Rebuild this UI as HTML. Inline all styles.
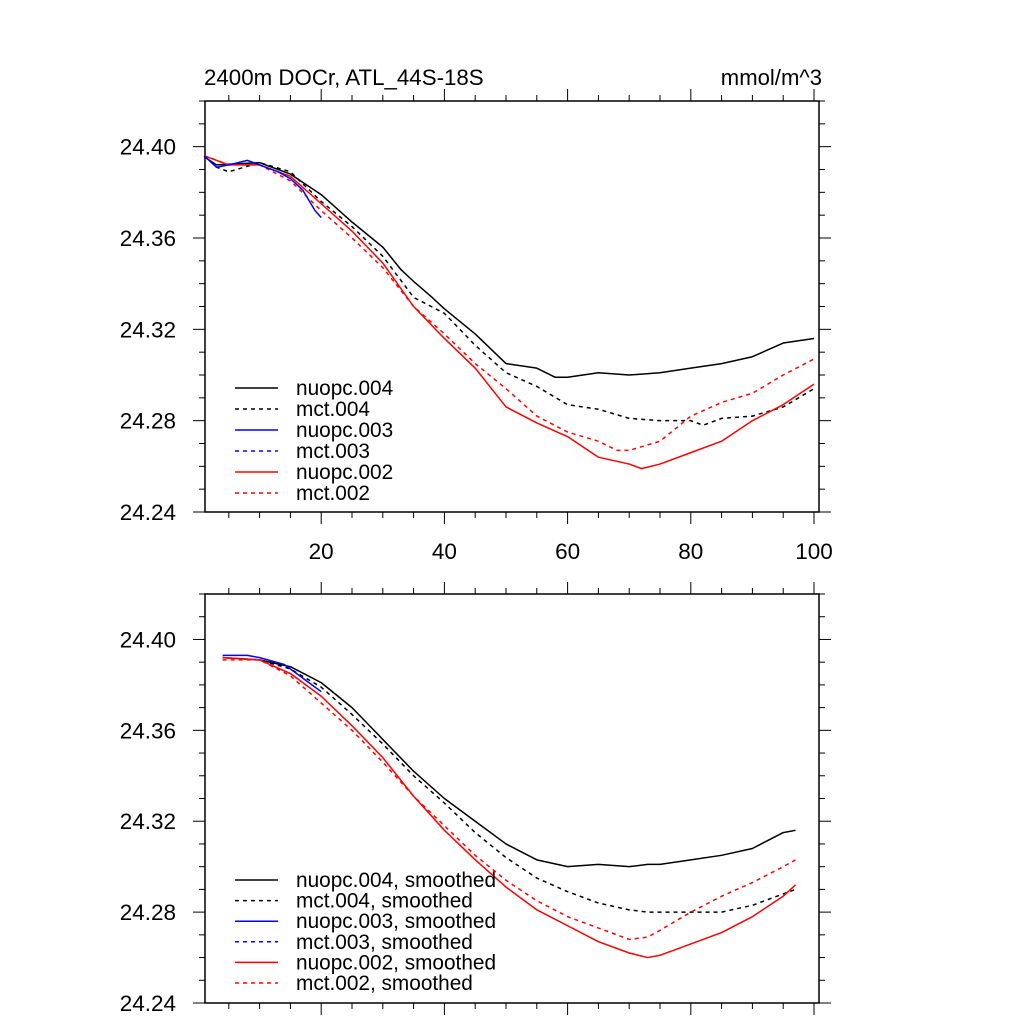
<!DOCTYPE html>
<html><head><meta charset="utf-8"><style>
body{margin:0;background:#fff}
svg{display:block;font-family:"Liberation Sans",sans-serif}
</style></head><body>
<svg id="c" width="1024" height="1024"></svg>
<script>
// ---- data (top panel) ----
const topNuopc004X=[1,3,10,15,20,25,30,33,35,38,40,45,50,55,58,60,65,70,75,80,85,90,95,100];
const topNuopc004Y=[24.3956,24.392,24.393,24.388,24.379,24.367,24.356,24.346,24.341,24.334,24.329,24.318,24.305,24.303,24.299,24.299,24.301,24.300,24.301,24.303,24.305,24.308,24.314,24.316];
const topMct004X=[1,3,5,10,15,20,25,30,35,40,45,50,55,60,65,70,75,80,82,85,90,95,100];
const topMct004Y=[24.396,24.391,24.389,24.393,24.389,24.376,24.365,24.352,24.334,24.327,24.313,24.301,24.295,24.287,24.285,24.281,24.280,24.280,24.278,24.281,24.282,24.286,24.294];
const topNuopc002X=[1,5,10,15,20,25,30,35,40,45,50,55,60,65,70,72,75,80,85,90,95,100];
const topNuopc002Y=[24.396,24.392,24.392,24.387,24.375,24.363,24.349,24.330,24.316,24.303,24.286,24.279,24.273,24.264,24.261,24.259,24.261,24.266,24.271,24.280,24.287,24.296];
const topMct002X=[1,5,10,15,20,25,30,35,40,45,50,55,60,65,68,70,75,80,85,90,95,100];
const topMct002Y=[24.396,24.392,24.392,24.385,24.372,24.360,24.347,24.330,24.318,24.305,24.294,24.282,24.275,24.271,24.267,24.267,24.271,24.282,24.288,24.292,24.300,24.307];
const topNuopc003X=[1,3,5,8,10,13,15,17,19,20];
const topNuopc003Y=[24.396,24.391,24.392,24.394,24.392,24.389,24.386,24.381,24.372,24.369];
// ---- data (bottom panel, smoothed) ----
const botX=[4,10,15,20,25,30,35,40,45,50,55,60,65,70,73,75,80,85,90,95,97];
const botNuopc004=[24.392,24.391,24.388,24.381,24.370,24.356,24.342,24.330,24.320,24.310,24.303,24.300,24.301,24.300,24.301,24.301,24.303,24.305,24.308,24.315,24.316];
const botMct004=[24.392,24.391,24.387,24.379,24.367,24.354,24.340,24.328,24.315,24.304,24.295,24.289,24.284,24.281,24.280,24.280,24.280,24.280,24.283,24.288,24.290];
const botNuopc002=[24.392,24.391,24.385,24.375,24.362,24.348,24.331,24.316,24.303,24.291,24.281,24.274,24.267,24.262,24.260,24.261,24.266,24.271,24.278,24.287,24.292];
const botMct002=[24.391,24.391,24.384,24.372,24.360,24.346,24.331,24.318,24.305,24.294,24.285,24.278,24.273,24.268,24.269,24.272,24.280,24.287,24.293,24.300,24.303];
const botBlueX=[4,8,10,14,18,20];
const botNuopc003=[24.393,24.393,24.392,24.389,24.381,24.377];
const yTicks=["24.24","24.28","24.32","24.36","24.40"];
const xTicks=["20","40","60","80","100"];

const NS="http://www.w3.org/2000/svg";
const svg=document.getElementById('c');
function mk(t,a,p){const e=document.createElementNS(NS,t);for(const k in a)e.setAttribute(k,a[k]);(p||svg).appendChild(e);return e;}
const L=205,R=819,xs=v=>198+(v)*6.16;

function panel(top,bot,name){
  const g=mk('g',{});
  
  
  const ys=v=>bot-(v-24.24)/0.18*(bot-top);
  const fr=mk('rect',{x:L,y:top,width:R-L,height:bot-top,fill:'none',stroke:'#000','stroke-width':1.5},g);
  
  
  for(let i=0;i<=18;i++){const v=24.24+i*0.01,y=ys(v),len=i%4==0?12:6;
    mk('line',{x1:L,x2:L-len,y1:y,y2:y,stroke:'#000'},g);
    mk('line',{x1:R,x2:R+len,y1:y,y2:y,stroke:'#000'},g);}
  for(let v=5;v<=100;v+=5){const x=xs(v),len=v%20==0?12:6;
    mk('line',{x1:x,x2:x,y1:bot,y2:bot+len,stroke:'#000'},g);
    mk('line',{x1:x,x2:x,y1:top,y2:top-len,stroke:'#000'},g);}
  yTicks.forEach(t=>{const e=mk('text',{x:176,y:ys(+t)+8,'text-anchor':'end','font-size':22.5},g);e.textContent=t;
    
    });
  return {g,ys};
}
function line(g,X,Y,ys,col,dash,name){
  const p=mk('polyline',{points:X.map((x,i)=>xs(x)+','+ys(Y[i])).join(' '),fill:'none',stroke:col,'stroke-width':1.5,'stroke-dasharray':dash?'4,4':'none','stroke-linejoin':'round'},g);
  
  
}
function legend(g,y0,dy,labels){
  const cols=['#000','#000','#0000ff','#0000ff','#ff0000','#ff0000'];
  labels.forEach((t,i)=>{const y=y0+i*dy;
    const l=mk('line',{x1:235,x2:278,y1:y,y2:y,stroke:cols[i],'stroke-width':1.5,'stroke-dasharray':i%2?'4,4':'none'},g);
    
    
    const e=mk('text',{x:296,y:y+7,'font-size':20.8},g);e.textContent=t;
    
    });
}
// top panel
const A=panel(101,512,'top-panel');
line(A.g,topNuopc004X,topNuopc004Y,A.ys,'#000',false,'line-nuopc-004');
line(A.g,topMct004X,topMct004Y,A.ys,'#000',true,'line-mct-004');
line(A.g,topMct002X,topMct002Y,A.ys,'#ff0000',true,'line-mct-002');
line(A.g,topNuopc002X,topNuopc002Y,A.ys,'#ff0000',false,'line-nuopc-002');
line(A.g,topNuopc003X,topNuopc003Y,A.ys,'#0000ff',false,'line-nuopc-003');
legend(A.g,388,21,['nuopc.004','mct.004','nuopc.003','mct.003','nuopc.002','mct.002']);
xTicks.forEach(t=>{const e=mk('text',{x:xs(+t),y:559,'text-anchor':'middle','font-size':22.5},A.g);e.textContent=t;
  
  });
const ti=mk('text',{x:204,y:85,'font-size':22.3});ti.textContent='2400m DOCr, ATL_44S-18S';


const un=mk('text',{x:822,y:85,'font-size':22.1,'text-anchor':'end'});un.textContent='mmol/m^3';


// bottom panel
const B=panel(594,1003,'bottom-panel');
line(B.g,botX,botNuopc004,B.ys,'#000',false,'line-nuopc-004-smoothed');
line(B.g,botX,botMct004,B.ys,'#000',true,'line-mct-004-smoothed');
line(B.g,botX,botMct002,B.ys,'#ff0000',true,'line-mct-002-smoothed');
line(B.g,botX,botNuopc002,B.ys,'#ff0000',false,'line-nuopc-002-smoothed');
line(B.g,botBlueX,botNuopc003,B.ys,'#0000ff',false,'line-nuopc-003-smoothed');
legend(B.g,880,20.6,['nuopc.004, smoothed','mct.004, smoothed','nuopc.003, smoothed','mct.003, smoothed','nuopc.002, smoothed','mct.002, smoothed']);
</script>
</body></html>
